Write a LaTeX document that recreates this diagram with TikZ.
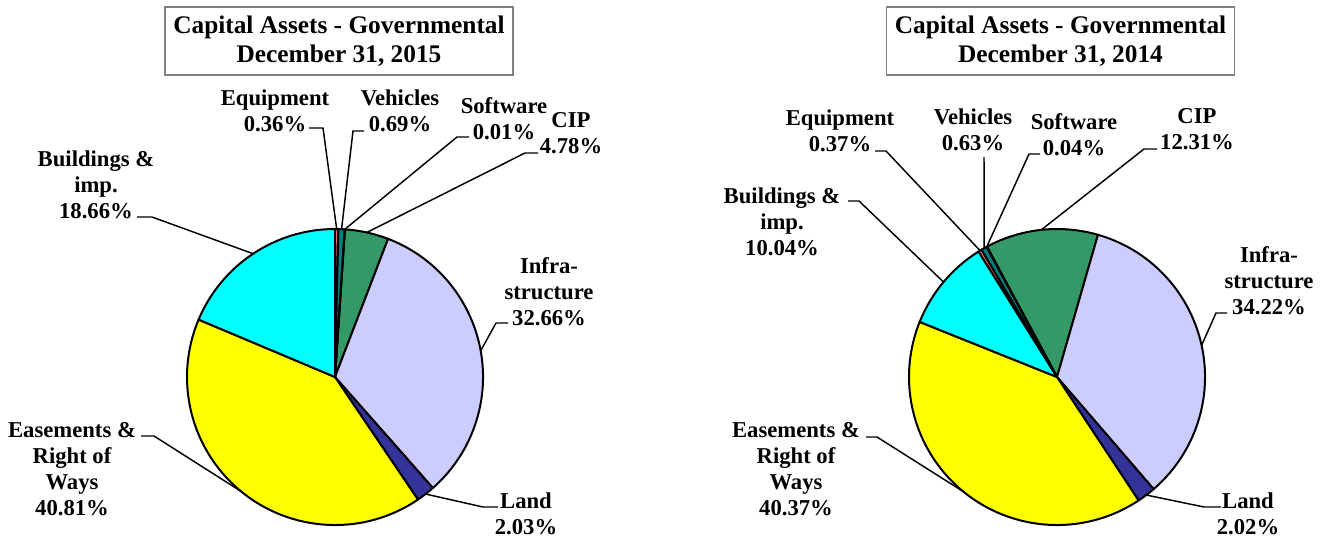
\documentclass[tikz,border=0pt]{standalone}
\usepackage{fontspec}
\setmainfont{Liberation Serif}
\usetikzlibrary{calc}
\definecolor{cipgreen}{HTML}{339966}
\definecolor{infrablue}{HTML}{CCCCFF}
\definecolor{landblue}{HTML}{333399}
\definecolor{easyellow}{HTML}{FFFF00}
\definecolor{bldcyan}{HTML}{00FFFF}
\definecolor{eqpink}{HTML}{FF8080}
\definecolor{vehteal}{HTML}{008080}
\definecolor{softtan}{HTML}{FFCC99}

\begin{document}
\begin{tikzpicture}[x=0.75pt,y=0.75pt,
  slice/.style={draw=black,line width=1.5pt,line join=round},
  lead/.style={line width=1.1pt},
  lbl/.style={anchor=north,align=center,inner sep=0pt,font=\fontsize{17}{19.5}\selectfont\bfseries},
  ttl/.style={draw=gray,line width=0.9pt,align=center,minimum width=261pt,minimum height=51pt,inner sep=0pt,font=\fontsize{19}{21.75}\selectfont\bfseries}]
  \useasboundingbox (0,0) rectangle (1320,-537);

  \node[ttl] (lTitle) at (339,-41) {Capital Assets - Governmental\\December 31, 2015};
  \node[ttl] (rTitle) at (1060.5,-41) {Capital Assets - Governmental\\December 31, 2014};

  \coordinate (lc) at (335,-377);
  \coordinate (rc) at (1057,-377);

  \filldraw[slice,fill=cipgreen] (lc) -- ++(86.184:148) arc (86.184:68.976:148) -- cycle;
  \filldraw[slice,fill=infrablue] (lc) -- ++(68.976:148) arc (68.976:-48.6:148) -- cycle;
  \filldraw[slice,fill=landblue] (lc) -- ++(-48.6:148) arc (-48.6:-55.908:148) -- cycle;
  \filldraw[slice,fill=easyellow] (lc) -- ++(-55.908:148) arc (-55.908:-202.824:148) -- cycle;
  \filldraw[slice,fill=bldcyan] (lc) -- ++(-202.824:148) arc (-202.824:-270:148) -- cycle;
  \filldraw[slice,fill=eqpink] (lc) -- ++(90:148) arc (90:88.704:148) -- cycle;
  \filldraw[slice,fill=vehteal] (lc) -- ++(88.704:148) arc (88.704:86.22:148) -- cycle;
  \filldraw[slice,fill=softtan] (lc) -- ++(86.22:148) arc (86.22:86.184:148) -- cycle;

  \filldraw[slice,fill=cipgreen] (rc) -- ++(118.256:148) arc (118.256:73.94:148) -- cycle;
  \filldraw[slice,fill=infrablue] (rc) -- ++(73.94:148) arc (73.94:-49.252:148) -- cycle;
  \filldraw[slice,fill=landblue] (rc) -- ++(-49.252:148) arc (-49.252:-56.524:148) -- cycle;
  \filldraw[slice,fill=easyellow] (rc) -- ++(-56.524:148) arc (-56.524:-201.856:148) -- cycle;
  \filldraw[slice,fill=bldcyan] (rc) -- ++(-201.856:148) arc (-201.856:-238:148) -- cycle;
  \filldraw[slice,fill=eqpink] (rc) -- ++(122:148) arc (122:120.668:148) -- cycle;
  \filldraw[slice,fill=vehteal] (rc) -- ++(120.668:148) arc (120.668:118.4:148) -- cycle;
  \filldraw[slice,fill=softtan] (rc) -- ++(118.4:148) arc (118.4:118.256:148) -- cycle;

  \node[lbl] (lEq) at (275,-89) {Equipment\\0.36\%};
  \node[lbl] (lVeh) at (400,-89) {Vehicles\\0.69\%};
  \node[lbl] (lSoft) at (504,-97) {Software\\0.01\%};
  \node[lbl] (lCip) at (571,-112) {CIP\\4.78\%};
  \node[lbl] (lBld) at (96,-150) {Buildings \&\\imp.\\18.66\%};
  \node[lbl] (lInfra) at (549,-257) {Infra-\\structure\\32.66\%};
  \node[lbl] (lLand) at (526,-492) {Land\\2.03\%};
  \node[lbl] (lEas) at (72,-422) {Easements \&\\Right of\\Ways\\40.81\%};

  \node[lbl] (rEq) at (840,-109) {Equipment\\0.37\%};
  \node[lbl] (rVeh) at (973,-108) {Vehicles\\0.63\%};
  \node[lbl] (rSoft) at (1074,-113) {Software\\0.04\%};
  \node[lbl] (rCip) at (1197,-108) {CIP\\12.31\%};
  \node[lbl] (rBld) at (782,-187) {Buildings \&\\imp.\\10.04\%};
  \node[lbl] (rInfra) at (1269,-246) {Infra-\\structure\\34.22\%};
  \node[lbl] (rLand) at (1248,-492) {Land\\2.02\%};
  \node[lbl] (rEas) at (796,-422) {Easements \&\\Right of\\Ways\\40.37\%};

  \coordinate (lEqT) at (309,-128);   \coordinate (lEqP) at ($(lc)+(89.352:148)$);
  \coordinate (lVehT) at (364,-131);  \coordinate (lVehP) at ($(lc)+(87.462:148)$);
  \coordinate (lSoftT) at (469,-137); \coordinate (lSoftP) at ($(lc)+(86.202:148)$);
  \coordinate (lCipT) at (538,-153);  \coordinate (lCipP) at ($(lc)+(77.58:148)$);
  \coordinate (lInfraT) at (508,-323); \coordinate (lInfraP) at ($(lc)+(10.188:148)$);
  \coordinate (lLandT) at (498,-507); \coordinate (lLandP) at ($(lc)+(-52.254:148)$);
  \coordinate (lEasT) at (141,-436);  \coordinate (lEasP) at ($(lc)+(-129.366:148)$);
  \coordinate (lBldT) at (137,-217);  \coordinate (lBldP) at ($(lc)+(123.588:148)$);
  \draw[lead] (lEqT) -- ++(14,0) -- (lEqP);
  \draw[lead] (lVehT) -- ++(-11,0) -- (lVehP);
  \draw[lead] (lSoftT) -- ++(-12,0) -- (lSoftP);
  \draw[lead] (lCipT) -- ++(-13,0) -- (lCipP);
  \draw[lead] (lInfraT) -- ++(-12,0) -- (lInfraP);
  \draw[lead] (lLandT) -- ++(-15,0) -- (lLandP);
  \draw[lead] (lEasT) -- ++(13,0) -- (lEasP);
  \draw[lead] (lBldT) -- ++(15,0) -- (lBldP);

  \coordinate (rEqT) at (875,-151);   \coordinate (rEqP) at ($(rc)+(121.334:148)$);
  \coordinate (rVehT) at (984,-157);  \coordinate (rVehP) at ($(rc)+(119.534:148)$);
  \coordinate (rSoftT) at (1040,-154); \coordinate (rSoftP) at ($(rc)+(118.328:148)$);
  \coordinate (rCipT) at (1157,-149); \coordinate (rCipP) at ($(rc)+(96.098:148)$);
  \coordinate (rInfraT) at (1227,-313); \coordinate (rInfraP) at ($(rc)+(12.344:148)$);
  \coordinate (rLandT) at (1221,-507); \coordinate (rLandP) at ($(rc)+(-52.888:148)$);
  \coordinate (rEasT) at (866,-437);  \coordinate (rEasP) at ($(rc)+(-129.19:148)$);
  \coordinate (rBldT) at (848,-201);  \coordinate (rBldP) at ($(rc)+(140.072:148)$);
  \draw[lead] (rEqT) -- ++(11,0) -- (rEqP);
  \draw[lead] (rVehT) -- (rVehP);
  \draw[lead] (rSoftT) -- ++(-11,0) -- (rSoftP);
  \draw[lead] (rCipT) -- ++(-13,0) -- (rCipP);
  \draw[lead] (rInfraT) -- ++(-11,0) -- (rInfraP);
  \draw[lead] (rLandT) -- ++(-17,0) -- (rLandP);
  \draw[lead] (rEasT) -- ++(11,0) -- (rEasP);
  \draw[lead] (rBldT) -- ++(11,0) -- (rBldP);
\end{tikzpicture}
\end{document}
